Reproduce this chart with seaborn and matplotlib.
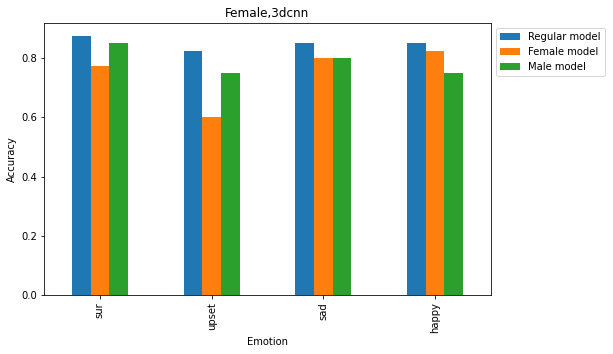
import pandas as pd
import matplotlib
matplotlib.use("Agg")
import matplotlib.pyplot as plt
import seaborn as sns

emotions = ['sur', 'upset', 'sad', 'happy']
regular_model = [0.875, 0.825, 0.85, 0.85]
female_model = [0.775, 0.6, 0.8, 0.825]
male_model = [0.85, 0.75, 0.8, 0.75]
model_names = ['Regular model', 'Female model', 'Male model']


def build_frame():
    rows = []
    for name, vals in zip(model_names, [regular_model, female_model, male_model]):
        for emo, v in zip(emotions, vals):
            rows.append({'Emotion': emo, 'model': name, 'Accuracy': v})
    return pd.DataFrame(rows)


def plot_accuracy(df):
    fig = plt.figure(figsize=(613 / 72, 354 / 72), dpi=72)
    ax = fig.add_axes([44 / 613, 1 - 295 / 354, (491 - 44) / 613, (295 - 23) / 354])
    sns.barplot(data=df, x='Emotion', y='Accuracy', hue='model', order=emotions,
                hue_order=model_names, palette=['#1f77b4', '#ff7f0e', '#2ca02c'],
                width=0.5, saturation=1, linewidth=0, ax=ax)
    ax.set_xlim(-0.5, 3.5)
    ax.set_ylim(0, max(regular_model) * 1.05)
    ax.set_yticks([0.0, 0.2, 0.4, 0.6, 0.8])
    plt.setp(ax.get_xticklabels(), rotation=90)
    ax.set_title('Female,3dcnn')
    ax.set_xlabel('Emotion')
    ax.set_ylabel('Accuracy')
    ax.legend(loc='upper left', bbox_to_anchor=(1.0, 1.0))
    fig.savefig('out.png', dpi=72)


if __name__ == "__main__":
    plot_accuracy(build_frame())
